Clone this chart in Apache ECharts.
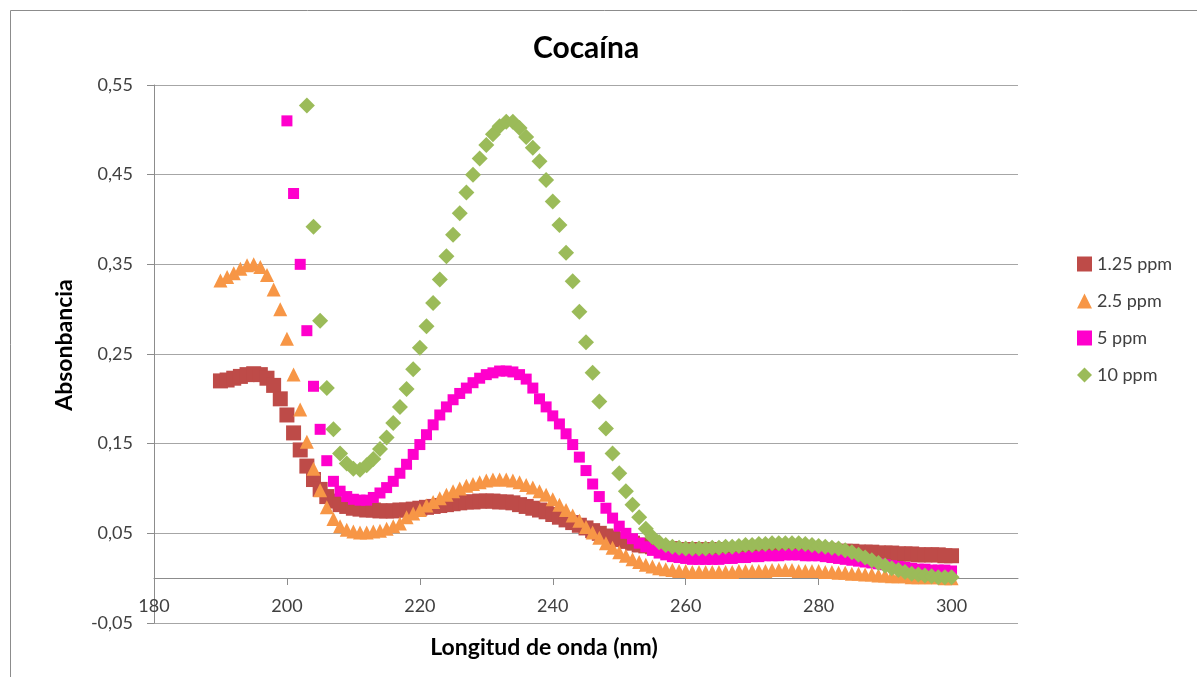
<!DOCTYPE html>
<html>
<head>
<meta charset="utf-8">
<title>Cocaína</title>
<script src="https://cdn.jsdelivr.net/npm/echarts@6/dist/echarts.min.js"></script>
<style>
  html, body { margin: 0; padding: 0; background: #fff; }
  #chart { width: 1197px; height: 677px; }
</style>
</head>
<body>
<div id="chart"></div>
<script>
// longitud de onda inicial de cada serie (paso de 1 nm)
const start125 = 190
const start25 = 190
const start5 = 200
const start10 = 203

// 1.25 ppm, 190..300 nm
const abs125 = [
  0.220, 0.221, 0.223, 0.225, 0.227, 0.228, 0.227, 0.223, 0.215, 0.200,
  0.182, 0.162, 0.143, 0.125, 0.110, 0.099, 0.091, 0.086, 0.082, 0.080,
  0.078, 0.077, 0.076, 0.076, 0.075, 0.075, 0.075, 0.076, 0.076, 0.077,
  0.078, 0.079, 0.080, 0.081, 0.082, 0.083, 0.084, 0.085, 0.085, 0.086,
  0.086, 0.086, 0.085, 0.085, 0.084, 0.082, 0.080, 0.078, 0.076, 0.074,
  0.071, 0.068, 0.065, 0.062, 0.059, 0.056, 0.053, 0.050, 0.047, 0.045,
  0.043, 0.041, 0.039, 0.037, 0.036, 0.035, 0.034, 0.033, 0.033, 0.032,
  0.032, 0.032, 0.032, 0.032, 0.032, 0.032, 0.032, 0.032, 0.032, 0.032,
  0.032, 0.032, 0.032, 0.032, 0.032, 0.032, 0.032, 0.032, 0.031, 0.031,
  0.031, 0.031, 0.031, 0.030, 0.030, 0.030, 0.029, 0.029, 0.029, 0.028,
  0.028, 0.028, 0.027, 0.027, 0.027, 0.026, 0.026, 0.026, 0.026, 0.025,
  0.025
]

// 2.5 ppm, 190..300 nm
const abs25 = [
  0.332, 0.336, 0.340, 0.345, 0.349, 0.350, 0.347, 0.338, 0.322, 0.300,
  0.267, 0.227, 0.188, 0.152, 0.122, 0.098, 0.079, 0.066, 0.058, 0.054,
  0.052, 0.051, 0.051, 0.052, 0.053, 0.055, 0.058, 0.061, 0.068, 0.072,
  0.076, 0.081, 0.085, 0.089, 0.093, 0.097, 0.100, 0.103, 0.105, 0.107,
  0.109, 0.110, 0.110, 0.110, 0.109, 0.107, 0.104, 0.101, 0.097, 0.093,
  0.088, 0.082, 0.076, 0.070, 0.064, 0.057, 0.051, 0.045, 0.039, 0.034,
  0.029, 0.025, 0.021, 0.018, 0.015, 0.013, 0.011, 0.010, 0.009, 0.008,
  0.008, 0.007, 0.007, 0.007, 0.007, 0.007, 0.007, 0.007, 0.008, 0.008,
  0.008, 0.008, 0.008, 0.009, 0.009, 0.009, 0.009, 0.008, 0.008, 0.008,
  0.008, 0.007, 0.007, 0.006, 0.006, 0.005, 0.005, 0.004, 0.004, 0.003,
  0.003, 0.002, 0.002, 0.002, 0.001, 0.001, 0.001, 0.001, 0.001, 0.000,
  0.000
]

// 5 ppm, 200..300 nm
const abs5 = [
  0.510, 0.429, 0.350, 0.276, 0.214, 0.166, 0.131, 0.108, 0.097, 0.091,
  0.088, 0.087, 0.087, 0.090, 0.095, 0.101, 0.108, 0.117, 0.127, 0.138,
  0.149, 0.160, 0.171, 0.182, 0.191, 0.199, 0.206, 0.212, 0.218, 0.223,
  0.227, 0.229, 0.231, 0.231, 0.230, 0.227, 0.222, 0.212, 0.200, 0.191,
  0.181, 0.172, 0.161, 0.149, 0.135, 0.120, 0.105, 0.091, 0.078, 0.067,
  0.058, 0.050, 0.044, 0.039, 0.035, 0.031, 0.028, 0.026, 0.024, 0.023,
  0.022, 0.021, 0.021, 0.021, 0.021, 0.021, 0.022, 0.022, 0.023, 0.023,
  0.024, 0.024, 0.025, 0.025, 0.025, 0.026, 0.026, 0.026, 0.025, 0.025,
  0.025, 0.024, 0.023, 0.022, 0.021, 0.020, 0.019, 0.018, 0.017, 0.016,
  0.015, 0.014, 0.013, 0.012, 0.011, 0.010, 0.010, 0.009, 0.009, 0.009,
  0.008
]

// 10 ppm, 203..300 nm
const abs10 = [
  0.527, 0.392, 0.287, 0.212, 0.166, 0.139, 0.128, 0.122, 0.121, 0.126,
  0.133, 0.144, 0.157, 0.173, 0.191, 0.211, 0.233, 0.257, 0.281, 0.307,
  0.333, 0.359, 0.383, 0.407, 0.430, 0.450, 0.468, 0.483, 0.495, 0.504,
  0.509, 0.509, 0.502, 0.492, 0.480, 0.465, 0.444, 0.420, 0.394, 0.363,
  0.331, 0.297, 0.263, 0.229, 0.197, 0.167, 0.139, 0.117, 0.097, 0.082,
  0.068, 0.055, 0.046, 0.040, 0.037, 0.035, 0.034, 0.033, 0.033, 0.033,
  0.033, 0.034, 0.034, 0.035, 0.035, 0.036, 0.037, 0.037, 0.038, 0.038,
  0.039, 0.039, 0.039, 0.039, 0.039, 0.038, 0.037, 0.036, 0.035, 0.034,
  0.033, 0.031, 0.029, 0.026, 0.023, 0.020, 0.017, 0.014, 0.011, 0.009,
  0.007, 0.005, 0.004, 0.003, 0.002, 0.001, 0.001, 0.001
]

const seriesNames = ['1.25 ppm', '2.5 ppm', '5 ppm', '10 ppm']
const xTicks = [180, 200, 220, 240, 260, 280, 300]
const yTicks = [-0.05, 0.05, 0.15, 0.25, 0.35, 0.45, 0.55]

function toPoints(start, values) {
  return values.map((v, i) => [start + i, v])
}

const font = 'Lato, "Open Sans", sans-serif'
const textColor = '#404040'
const lineColor = '#8c8c8c'

const chart = echarts.init(document.getElementById('chart'))
const option = {
  animation: false,
  backgroundColor: '#ffffff',
  textStyle: { fontFamily: font },
  title: {
    text: 'Cocaína',
    left: 581,
    top: 28,
    textAlign: 'center',
    textStyle: { fontFamily: font, fontSize: 30, fontWeight: 'bold', color: '#000' },
  },
  graphic: [
    {
      type: 'rect',
      silent: true,
      shape: { x: 10.5, y: 10.5, width: 1200, height: 700 },
      style: { fill: 'none', stroke: '#8c8c8c', lineWidth: 1 },
    },
    {
      // título del eje x
      type: 'text',
      x: 544,
      y: 648,
      style: {
        text: 'Longitud de onda (nm)',
        font: 'bold 23px ' + font,
        fill: '#000',
        align: 'center',
        verticalAlign: 'middle',
      },
    },
    {
      // título del eje y
      type: 'text',
      x: 65,
      y: 345,
      rotation: Math.PI / 2,
      style: {
        text: 'Absonbancia',
        font: 'bold 23px ' + font,
        fill: '#000',
        align: 'center',
        verticalAlign: 'middle',
      },
    },
  ],
  grid: {
    left: 154,
    right: 179,
    top: 85,
    bottom: 54,
    containLabel: false,
  },
  legend: {
    orient: 'vertical',
    left: 1077,
    top: 255,
    padding: 0,
    itemGap: 19,
    itemWidth: 15,
    itemHeight: 15,
    textStyle: { fontFamily: font, fontSize: 18, color: textColor },
    data: [
      { name: seriesNames[0], icon: 'rect' },
      { name: seriesNames[1], icon: 'triangle' },
      { name: seriesNames[2], icon: 'rect' },
      { name: seriesNames[3], icon: 'diamond' },
    ],
  },
  xAxis: {
    type: 'value',
    min: xTicks[0],
    max: 310,
    interval: xTicks[1] - xTicks[0],
    position: 'bottom',
    offset: -45,
    axisLine: { onZero: false, lineStyle: { color: lineColor } },
    axisTick: { show: true, inside: false, length: 7, lineStyle: { color: lineColor } },
    axisLabel: {
      margin: 19,
      showMaxLabel: false,
      fontSize: 18,
      color: textColor,
      fontFamily: font,
    },
    splitLine: { show: false },
  },
  yAxis: {
    type: 'value',
    min: yTicks[0],
    max: yTicks[yTicks.length - 1],
    interval: 0.1,
    axisLine: { show: true, lineStyle: { color: lineColor } },
    axisTick: { show: true, inside: false, length: 7, lineStyle: { color: lineColor } },
    axisLabel: {
      margin: 21,
      fontSize: 18,
      color: textColor,
      fontFamily: font,
      formatter: (v) => v.toFixed(2).replace('.', ','),
    },
    splitLine: { show: true, lineStyle: { color: '#a6a6a6' } },
  },
  series: [
    {
      name: seriesNames[0],
      type: 'scatter',
      symbol: 'rect',
      symbolSize: 15,
      itemStyle: { color: '#BE4B48', opacity: 1 },
      data: toPoints(start125, abs125),
    },
    {
      name: seriesNames[1],
      type: 'scatter',
      symbol: 'triangle',
      symbolSize: 14,
      itemStyle: { color: '#F79646', opacity: 1 },
      data: toPoints(start25, abs25),
    },
    {
      name: seriesNames[2],
      type: 'scatter',
      symbol: 'rect',
      symbolSize: 11,
      itemStyle: { color: '#FF00CC', opacity: 1 },
      data: toPoints(start5, abs5),
    },
    {
      name: seriesNames[3],
      type: 'scatter',
      symbol: 'diamond',
      symbolSize: 16,
      itemStyle: { color: '#9BBB59', opacity: 1 },
      data: toPoints(start10, abs10),
    },
  ],
}
chart.setOption(option, true)
</script>
</body>
</html>
